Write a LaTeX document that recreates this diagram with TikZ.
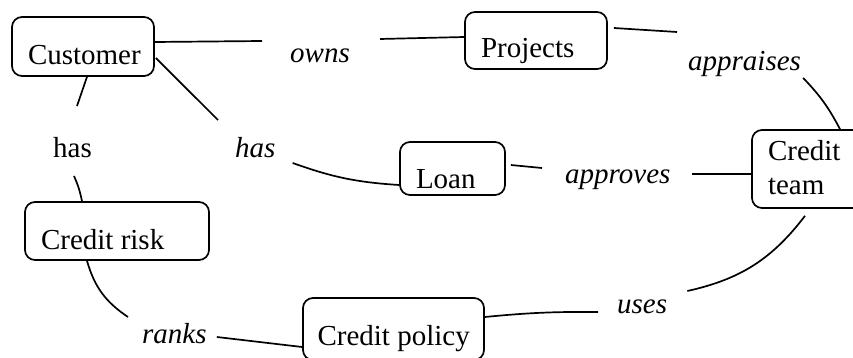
\documentclass[tikz,border=0pt]{standalone}
\usepackage{fontspec}
\setmainfont{Liberation Serif}
\begin{document}
\begin{tikzpicture}[x=1pt,y=-1pt,
  box/.style={draw, line width=1.7pt, rounded corners=10pt, inner xsep=16pt, inner ysep=0pt, align=left, font=\fontsize{29}{34}\selectfont},
  rel/.style={anchor=base west, inner sep=0pt, font=\fontsize{29}{34}\selectfont\itshape},
  relup/.style={anchor=base west, inner sep=0pt, font=\fontsize{29}{34}\selectfont},
  link/.style={line width=1.7pt}]
\useasboundingbox (0,0) rectangle (853,358);
% concept boxes
\node[box, text height=48pt, text depth=11pt] (cust) at (83,46.5) {\makebox[110pt][l]{Customer}};
\node[box, text height=46pt, text depth=11pt] (proj) at (536,40.5) {\makebox[110pt][l]{Projects}};
\node[box, text height=46pt, text depth=7pt] (loan) at (452.5,168.5) {\makebox[73pt][l]{Loan}};
\node[box, text height=64pt, text depth=14pt] (team) at (808,169) {\makebox[80pt][l]{Credit}\\\makebox[80pt][l]{team}};
\node[box, text height=47pt, text depth=11pt] (risk) at (117,231) {\makebox[152pt][l]{Credit risk}};
\node[box, inner xsep=14.5pt, text height=47pt, text depth=15pt] (policy) at (393.5,329) {\makebox[152pt][l]{Credit policy}};
% relation labels
\node[rel] (owns) at (290,63) {owns};
\node[rel] (appr) at (688,71) {appraises};
\node[rel] (hasi) at (235,158) {has};
\node[relup] (hasu) at (53,158) {has};
\node[rel] (appv) at (565,183) {approves};
\node[rel] (ranks) at (142,343) {ranks};
\node[rel] (uses) at (617,313) {uses};
% connectors
\draw[link] ([shift={(0,-4.5)}]cust.east) -- ([shift={(-28,-22)}]owns.base west);
\draw[link] ([shift={(30,-24)}]owns.base east) -- ([shift={(0,-3.5)}]proj.west);
\draw[link] ([shift={(6,-12.5)}]proj.east) -- ([shift={(-11,-39)}]appr.base west);
\draw[link] ([shift={(2,7)}]appr.base east) to[bend left=8] ([shift={(32,0)}]team.north);
\draw[link] ([shift={(1,11.5)}]cust.east) -- ([shift={(-17,-38)}]hasi.base west);
\draw[link] ([shift={(17,5)}]hasi.base east) to[bend right=8] ([shift={(0,16.5)}]loan.west);
\draw[link] ([shift={(4,0)}]cust.south) -- ([shift={(24,-52)}]hasu.base west);
\draw[link] ([shift={(21,18)}]hasu.base west) to[bend left=6] ([shift={(-35,0)}]risk.north);
\draw[link] ([shift={(-30,0)}]risk.south) to[bend right=20] ([shift={(-14,-26)}]ranks.base west);
\draw[link] ([shift={(10,-6)}]ranks.base east) -- ([shift={(0,18)}]policy.west);
\draw[link] ([shift={(0,-12)}]policy.east) to[bend left=3] ([shift={(-19,-1)}]uses.base west);
\draw[link] ([shift={(20,-22)}]uses.base east) to[bend right=20] ([shift={(-3,7)}]team.south);
\draw[link] ([shift={(5,-3.5)}]loan.east) -- ([shift={(-23,-15)}]appv.base west);
\draw[link] ([shift={(21,-9)}]appv.base east) -- ([shift={(0,5)}]team.west);
\end{tikzpicture}
\end{document}
